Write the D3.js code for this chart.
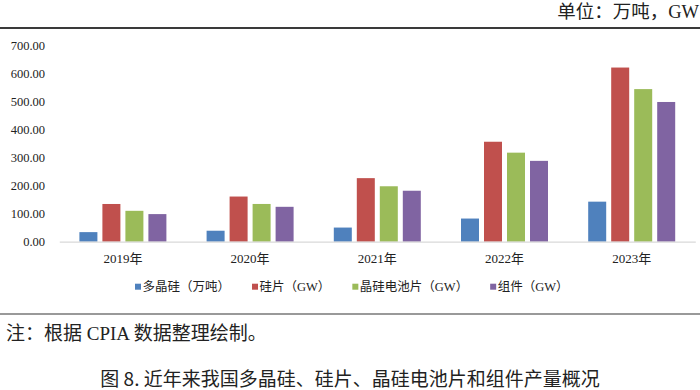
<!DOCTYPE html>
<meta charset="utf-8">
<style>
    body {margin: 0; background: #fff;}
    svg text {font-family: 'Liberation Serif', 'Noto Sans CJK SC', serif; fill: #222;}
</style>
<svg width="700" height="390"></svg>
<script src="https://d3js.org/d3.v7.min.js"></script>
<script>

var years = ["2019年", "2020年", "2021年", "2022年", "2023年"];
var seriesNames = ["多晶硅（万吨）", "硅片（GW）", "晶硅电池片（GW）", "组件（GW）"];
var seriesColors = ["#4f81bd", "#c0504d", "#9bbb59", "#8064a2"];
var polysilicon = [34.2, 39.2, 50.5, 82.7, 143];
var wafers = [134.7, 161.3, 227, 357, 622];
var cells = [110.3, 134.8, 198, 318, 545];
var modules = [98.6, 124.6, 182, 288.7, 499];
var yTicks = [0, 100, 200, 300, 400, 500, 600, 700];

var values = [polysilicon, wafers, cells, modules];

var svg = d3.select("svg"),
    width = +svg.attr("width"),
    height = +svg.attr("height");

// unit label + top rule
svg.append("text")
    .attr("x", 699)
    .attr("y", 18)
    .attr("text-anchor", "end")
    .style("font-size", "18.5px")
    .text("单位：万吨，GW");

svg.append("line")
    .attr("x1", 0).attr("x2", width)
    .attr("y1", 28).attr("y2", 28)
    .style("stroke", "#3a3a3a")
    .style("stroke-width", 2);

var x0 = d3.scaleBand()
    .domain(years)
    .range([59.3, 695.3]);

var x1 = d3.scaleBand()
    .domain(d3.range(seriesNames.length))
    .range([0, 87])
    .paddingInner(5 / 23);

var y = d3.scaleLinear()
    .domain([0, 700])
    .range([241.7, 45.7]);

// y labels (no axis line, no grid)
var yAxis = svg.append("g")
    .attr("transform", "translate(45,0)")
    .call(d3.axisLeft(y).tickValues(yTicks).tickSize(0).tickPadding(0).tickFormat(d3.format(".2f")));
yAxis.select(".domain").remove();
yAxis.selectAll("text")
    .style("font-family", "'Liberation Serif', serif")
    .style("font-size", "12.5px")
    .attr("fill", "#222");

// bars
var groups = svg.append("g").selectAll("g")
    .data(years)
    .enter().append("g")
    .attr("transform", function(d) { return "translate(" + (x0(d) + x0.bandwidth() / 2 - 43.5) + ",0)"; });

groups.selectAll("rect")
    .data(function(d, i) { return values.map(function(s, k) { return {k: k, v: s[i]}; }); })
    .enter().append("rect")
    .attr("x", function(d) { return x1(d.k); })
    .attr("width", x1.bandwidth())
    .attr("y", function(d) { return y(d.v); })
    .attr("height", function(d) { return y(0) - y(d.v); })
    .style("fill", function(d) { return seriesColors[d.k]; });

// x axis
var xAxis = svg.append("g")
    .attr("transform", "translate(0," + y(0) + ")")
    .call(d3.axisBottom(x0).tickSize(0).tickPadding(12));
xAxis.select(".domain")
    .style("stroke", "#d9d9d9")
    .style("stroke-width", 1.2);
xAxis.selectAll("text")
    .style("font-family", "'Liberation Serif', 'Noto Sans CJK SC', serif")
    .style("font-size", "13px")
    .attr("fill", "#222");

// legend
var legend = svg.append("g");
var lx = 135;
seriesNames.forEach(function(name, k) {
  legend.append("rect")
      .attr("x", lx).attr("y", 283.7)
      .attr("width", 6).attr("height", 6)
      .style("fill", seriesColors[k]);
  var t = legend.append("text")
      .attr("x", lx + 7.5)
      .attr("y", 291.3)
      .style("font-size", "12.5px")
      .text(name);
  lx += 7.5 + t.node().getComputedTextLength() + 22;
});

// note rule + note
svg.append("line")
    .attr("x1", 0).attr("x2", width)
    .attr("y1", 314).attr("y2", 314)
    .style("stroke", "#777")
    .style("stroke-width", 1.5);

svg.append("text")
    .attr("x", 6)
    .attr("y", 339.5)
    .style("font-size", "19px")
    .text("注：根据 CPIA 数据整理绘制。");

// caption
svg.append("text")
    .attr("x", 350)
    .attr("y", 386)
    .attr("text-anchor", "middle")
    .style("font-family", "'Noto Sans CJK SC', sans-serif")
    .style("font-size", "19px")
    .text("图 8. 近年来我国多晶硅、硅片、晶硅电池片和组件产量概况");

</script>
